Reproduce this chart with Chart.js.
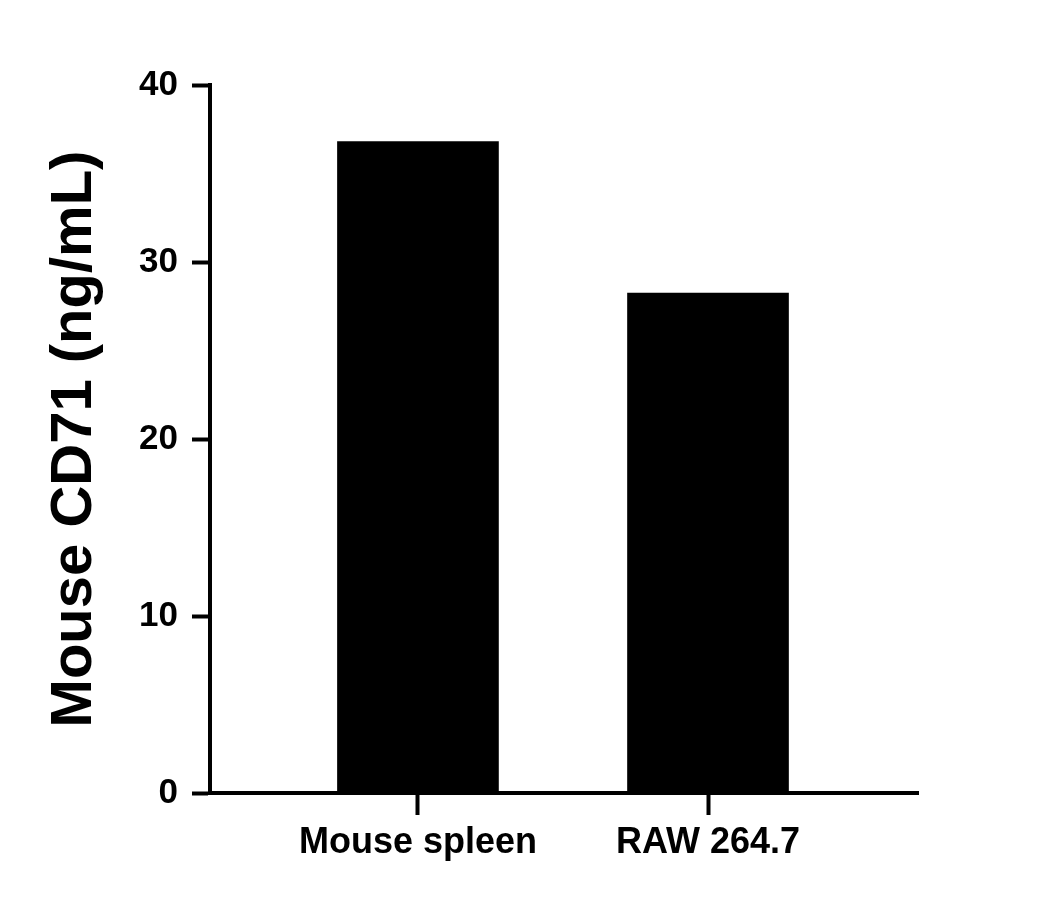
<!DOCTYPE html>
<html><head><meta charset="utf-8">
<script src="https://cdn.jsdelivr.net/npm/chart.js"></script>
<style>html,body{margin:0;padding:0;background:#fff}#w{width:1051px;height:910px}</style>
</head><body><div id="w"><canvas id="c"></canvas></div>
<script>
const categories = ['Mouse spleen', 'RAW 264.7'];
const values = [36.8, 28.25];
const yTicks = [0, 10, 20, 30, 40];

const font = {family: '"Liberation Sans", Arial, sans-serif', weight: 'bold'};
new Chart(document.getElementById('c'), {
  type: 'bar',
  data: {datasets: [{data: values.map((v, i) => ({x: i + 1, y: v})), backgroundColor: '#000', barThickness: 161}]},
  options: {
    responsive: true, maintainAspectRatio: false, animation: false,
    layout: {padding: {top: 85, right: 133, left: 0, bottom: 0}},
    plugins: {legend: {display: false}, tooltip: {enabled: false}},
    scales: {
      x: {
        type: 'linear', min: 0.283, max: 2.724, offset: false,
        afterBuildTicks: s => { s.ticks = categories.map((c, i) => ({value: i + 1})); },
        afterFit: s => { s.height = 117; },
        ticks: {callback: v => categories[Math.round(v) - 1], color: '#000', font: {...font, size: 36}, padding: 6, maxRotation: 0, autoSkip: false},
        grid: {offset: false, drawOnChartArea: false, tickLength: 22, tickWidth: 4, tickColor: '#000'},
        border: {color: '#000', width: 4}
      },
      y: {
        min: 0, max: 40,
        afterBuildTicks: s => { s.ticks = yTicks.map(v => ({value: v})); },
        afterFit: s => { s.width = 210; },
        ticks: {color: '#000', font: {...font, size: 35}, padding: 14},
        grid: {drawOnChartArea: false, tickLength: 18, tickWidth: 4, tickColor: '#000'},
        border: {color: '#000', width: 4},
        title: {display: true, text: 'Mouse CD71 (ng/mL)', color: '#000', font: {...font, size: 58}, padding: {top: 40, bottom: 0}}
      }
    }
  }
});
</script></body></html>
